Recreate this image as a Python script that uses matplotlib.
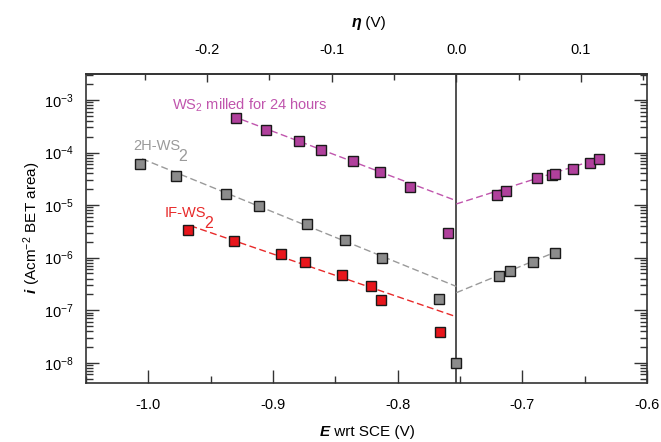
import matplotlib
matplotlib.use("Agg")
import matplotlib.pyplot as plt
from matplotlib.ticker import (LogLocator, MultipleLocator, FixedLocator,
                               FormatStrFormatter, NullFormatter)

plt.rcParams["font.family"] = ["Liberation Sans", "DejaVu Sans"]
plt.rcParams["axes.unicode_minus"] = False
plt.rcParams["mathtext.default"] = "regular"

# ---------- data ---------------------------------------------------------
E_corr = -0.753   # eta = 0

purple_E = [-0.9296, -0.9055, -0.8795, -0.8618, -0.836, -0.8145, -0.7904, -0.7593,
            -0.7205, -0.7135, -0.6884, -0.6763, -0.6741, -0.6594, -0.6455, -0.6383]
purple_i = [4.6e-4, 2.7e-4, 1.64e-4, 1.13e-4, 7.0e-5, 4.2e-5, 2.2e-5, 3.0e-6,
            1.56e-5, 1.89e-5, 3.24e-5, 3.8e-5, 3.9e-5, 4.9e-5, 6.3e-5, 7.4e-5]

gray_E = [-1.007, -0.9775, -0.9379, -0.9114, -0.8725, -0.8426, -0.8126, -0.7668,
          -0.7532, -0.7186, -0.7098, -0.6916, -0.6737]
gray_i = [6.15e-5, 3.64e-5, 1.65e-5, 9.5e-6, 4.3e-6, 2.15e-6, 1.0e-6, 1.63e-7,
          1.0e-8, 4.4e-7, 5.45e-7, 8.4e-7, 1.23e-6]

red_E = [-0.9679, -0.9309, -0.8937, -0.8747, -0.8445, -0.8217, -0.8137, -0.766]
red_i = [3.38e-6, 2.09e-6, 1.17e-6, 8.3e-7, 4.7e-7, 2.9e-7, 1.58e-7, 3.8e-8]

# Tafel fits (cathodic / anodic branches)
purple_cat_E = [-0.9328, E_corr]
purple_cat_i = [4.97e-4, 1.21e-5]
purple_an_E = [E_corr, -0.637]
purple_an_i = [1.05e-5, 7.87e-5]
gray_cat_E = [-1.005, E_corr]
gray_cat_i = [7.6e-5, 2.83e-7]
gray_an_E = [E_corr, -0.6707]
gray_an_i = [2.15e-7, 1.36e-6]
red_cat_E = [-0.9663, E_corr]
red_cat_i = [4.05e-6, 7.5e-8]

eta_ticks = [-0.2, -0.1, 0.0, 0.1]
eta_minor = [-0.25, -0.15, -0.05, 0.05, 0.15]

PURPLE_FILL, PURPLE = "#b0409c", "#c055ad"
GRAY_FILL, GRAY = "#8c8c8c", "#9a9a9a"
RED_FILL, RED = "#e8161c", "#e82a2a"
SPINE = "#333333"

# ---------- figure -------------------------------------------------------
fig = plt.figure(figsize=(6.61, 4.42), dpi=100)
ax = fig.add_axes([0.130, 0.1335, 0.849, 0.699])
ax.set_yscale("log")
ax.set_xlim(-1.05, -0.6)
ax.set_ylim(10 ** -8.386, 10 ** -2.506)

dash = (5, 2.5)
for xs, ys, c in [(purple_cat_E, purple_cat_i, PURPLE), (purple_an_E, purple_an_i, PURPLE),
                  (gray_cat_E, gray_cat_i, GRAY), (gray_an_E, gray_an_i, GRAY),
                  (red_cat_E, red_cat_i, RED)]:
    ax.plot(xs, ys, ls=(0, dash), color=c, lw=1.0, zorder=2)

ax.axvline(E_corr, color=SPINE, lw=1.2, zorder=1)

mk = dict(ls="none", marker="s", ms=6.8, mec="#1a1a1a", mew=1.0, zorder=3)
ax.plot(purple_E, purple_i, mfc=PURPLE_FILL, **mk)
ax.plot(gray_E, gray_i, mfc=GRAY_FILL, **mk)
ax.plot(red_E, red_i, mfc=RED_FILL, **mk)

# labels on the curves
ax.text(-0.981, 10 ** -3.19, "WS$_2$ milled for 24 hours", color=PURPLE, fontsize=10.5,
        va="baseline", ha="left")
t = ax.text(-1.012, 10 ** -3.952, "2H-WS", color=GRAY, fontsize=10.5, va="baseline", ha="left")
ax.annotate("2", xy=(1, 0), xycoords=t, xytext=(-1.5, -6), textcoords="offset points",
            color=GRAY, fontsize=11.5, va="baseline", ha="left")
t = ax.text(-0.987, 10 ** -5.221, "IF-WS", color=RED, fontsize=10.5, va="baseline", ha="left")
ax.annotate("2", xy=(1, 0), xycoords=t, xytext=(-1.5, -6), textcoords="offset points",
            color=RED, fontsize=11.5, va="baseline", ha="left")

# ---------- ticks --------------------------------------------------------
ax.xaxis.set_major_locator(MultipleLocator(0.1))
ax.xaxis.set_minor_locator(MultipleLocator(0.05))
ax.xaxis.set_major_formatter(FormatStrFormatter("%.1f"))
ax.yaxis.set_major_locator(LogLocator(base=10, numticks=20))
ax.yaxis.set_minor_locator(LogLocator(base=10, subs=range(2, 10), numticks=100))
ax.yaxis.set_minor_formatter(NullFormatter())

ax.tick_params(axis="x", which="both", direction="in", top=False, bottom=True,
               labelsize=10.5, pad=11, color=SPINE)
ax.tick_params(axis="y", which="both", direction="in", left=True, right=True,
               labelsize=10.5, pad=9, color=SPINE)
ax.tick_params(which="major", length=9.5, width=1.0)
ax.tick_params(which="minor", length=5, width=1.0)
for s in ax.spines.values():
    s.set_linewidth(1.2)
    s.set_color(SPINE)

top = ax.secondary_xaxis("top", functions=(lambda e: e - E_corr, lambda h: h + E_corr))
top.xaxis.set_major_locator(FixedLocator(eta_ticks))
top.xaxis.set_minor_locator(FixedLocator(eta_minor))
top.xaxis.set_major_formatter(FormatStrFormatter("%.1f"))
top.tick_params(which="both", direction="in", labelsize=10.5, pad=12, color=SPINE)
top.tick_params(which="major", length=6, width=1.0)
top.tick_params(which="minor", length=4.5, width=1.0)
top.spines["top"].set_linewidth(1.2)
top.spines["top"].set_color(SPINE)

# ---------- axis titles (bold italic symbol + plain text) ----------------
t = fig.text(0.484, 0.022, "E", fontsize=11, fontweight="bold", style="italic",
             ha="left", va="center")
plt.annotate(" wrt SCE (V)", xy=(1, 0), xycoords=t, fontsize=11, ha="left", va="bottom",
             annotation_clip=False)

t = fig.text(0.532, 0.948, "\u03b7", fontsize=11.5, fontweight="bold", style="italic",
             ha="left", va="center")
plt.annotate(" (V)", xy=(1, 0), xycoords=t, fontsize=11, ha="left", va="bottom",
             annotation_clip=False)

t = fig.text(0.048, 0.337, "i", fontsize=11, fontweight="bold", style="italic",
             rotation=90, ha="center", va="bottom")
plt.annotate(" (Acm$^{-2}$ BET area)", xy=(0.5, 1), xycoords=t, fontsize=11, rotation=90,
             ha="center", va="bottom", annotation_clip=False)

fig.savefig("out.png", dpi=100)
